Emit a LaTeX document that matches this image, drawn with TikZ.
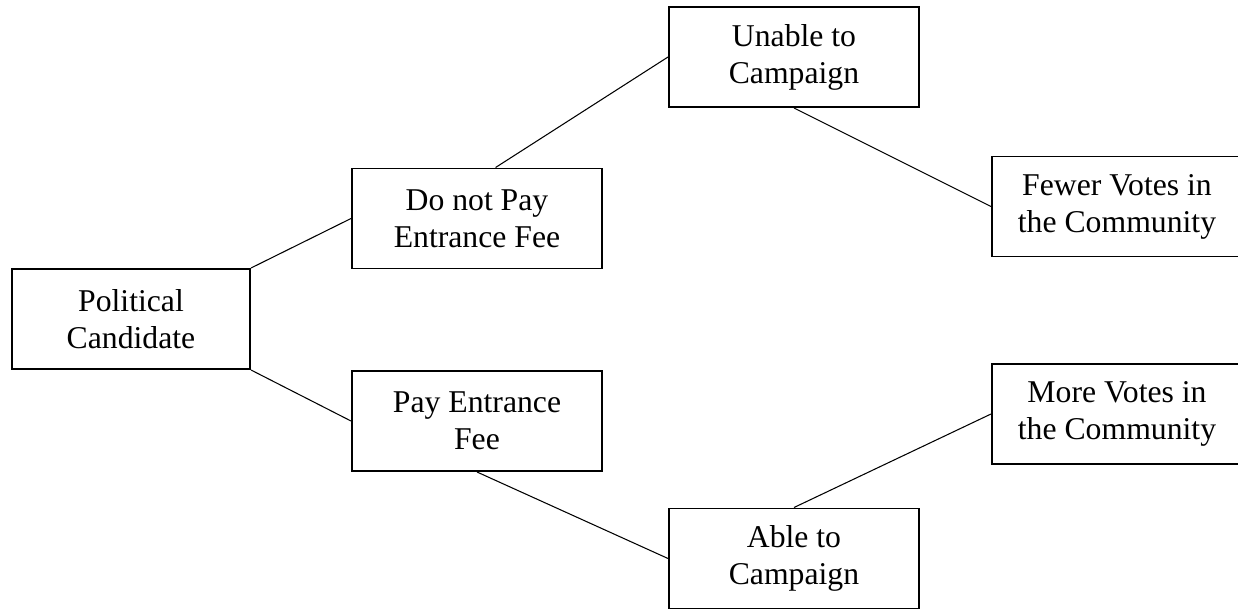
\documentclass[tikz,border=0pt]{standalone}
\usepackage{fontspec}
\setmainfont{Liberation Serif}
\usepackage{tikz}

\begin{document}
\begin{tikzpicture}[x=0.3785pt,y=-0.3785pt,
    box/.style={draw, line width=0.75pt, rectangle, align=center,
      minimum width=250*0.3785pt, minimum height=100*0.3785pt,
      inner sep=0pt, font=\fontsize{12}{14}\selectfont}]
    \useasboundingbox (0,0) rectangle (1238,610);
    \clip (0,0) rectangle (1238,610);
    \node[box, minimum width=238*0.3785pt] (cand) at (131,319) {Political\\Candidate};
    \node[box] (nopay) at (477,218.5) {Do not Pay\\Entrance Fee};
    \node[box] (pay) at (477,421) {Pay Entrance\\Fee};
    \node[box] (unable) at (794,57) {Unable to\\Campaign};
    \node[box] (able) at (794,558.5) {Able to\\Campaign};
    \node[box] (fewer) at (1117,206.5) {Fewer Votes in\\the Community};
    \node[box] (more) at (1117,414) {More Votes in\\the Community};

    \draw [black, line width=0.4pt] (cand.north east) -- (nopay.west);
    \draw [black, line width=0.4pt] (cand.south east) -- (pay.west);
    \draw [black, line width=0.4pt] (nopay.70) -- (unable.west);
    \draw [black, line width=0.4pt] (unable.south) -- (fewer.west);
    \draw [black, line width=0.4pt] (pay.south) -- (able.west);
    \draw [black, line width=0.4pt] (able.north) -- (more.west);
  \end{tikzpicture}
\end{document}
